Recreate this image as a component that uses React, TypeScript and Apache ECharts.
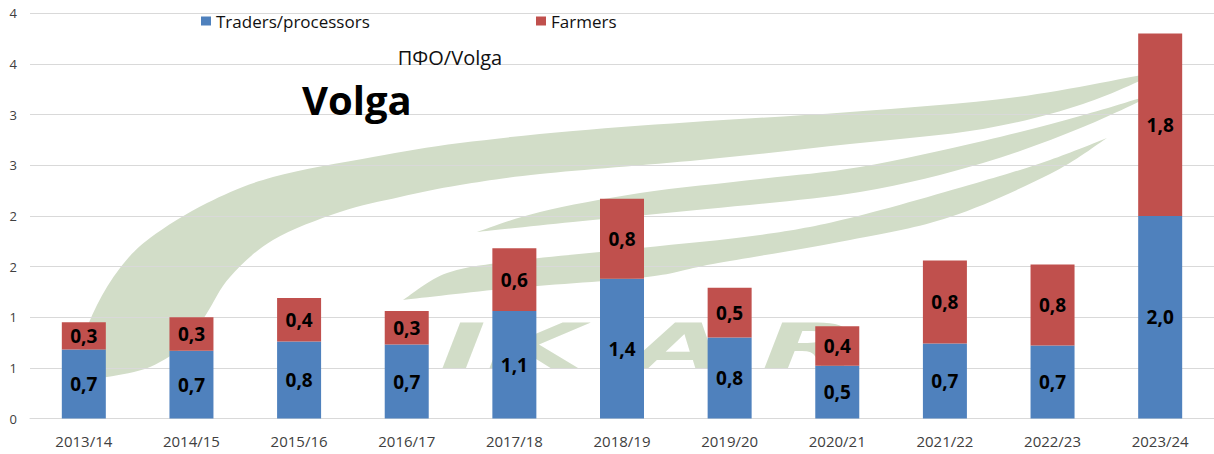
import React, { useEffect, useRef } from "react";
import * as echarts from "echarts";

const categories = ["2013/14", "2014/15", "2015/16", "2016/17", "2017/18", "2018/19", "2019/20", "2020/21", "2021/22", "2022/23", "2023/24"];
const traders = [0.68, 0.67, 0.76, 0.73, 1.06, 1.38, 0.8, 0.52, 0.74, 0.72, 2.0];
const farmers = [0.27, 0.33, 0.43, 0.33, 0.62, 0.79, 0.49, 0.39, 0.82, 0.8, 1.8];
const seriesNames = ["Traders/processors", "Farmers"];
const subtitle = "ПФО/Volga";
const title = "Volga";

type P = [number, number];

function smooth(pts: P[]): string {
  let d = "";
  for (let i = 0; i < pts.length - 1; i++) {
    const p0 = pts[i - 1] || pts[i];
    const p1 = pts[i];
    const p2 = pts[i + 1];
    const p3 = pts[i + 2] || p2;
    const c1 = [p1[0] + (p2[0] - p0[0]) / 6, p1[1] + (p2[1] - p0[1]) / 6];
    const c2 = [p2[0] - (p3[0] - p1[0]) / 6, p2[1] - (p3[1] - p1[1]) / 6];
    d += ` C ${c1[0]} ${c1[1]} ${c2[0]} ${c2[1]} ${p2[0]} ${p2[1]}`;
  }
  return d;
}

function leaf(outer: P[], inner: P[]): string {
  return `M ${outer[0][0]} ${outer[0][1]}` + smooth(outer) + smooth(inner) + " Z";
}

const swooshA = leaf(
  [[72, 381], [82, 342], [97, 305], [120, 268], [150, 238], [207, 203], [273, 177], [373, 157], [460, 143], [573, 131], [707, 121], [850, 112], [1017, 97], [1162, 71]],
  [[1162, 71], [1083, 104], [983, 129], [850, 144], [700, 160], [540, 174], [460, 185], [400, 197], [340, 212], [273, 240], [230, 277], [207, 313], [187, 343], [150, 367], [107, 377], [72, 381]]
);
const swooshB = leaf(
  [[477, 232], [540, 212], [640, 193], [760, 179], [860, 167], [983, 141], [1080, 116], [1157, 93]],
  [[1157, 93], [1083, 127], [983, 163], [860, 192], [707, 209], [573, 222], [477, 232]]
);
const swooshC = leaf(
  [[403, 300], [447, 273], [513, 261], [640, 248], [760, 235], [850, 218], [983, 181], [1050, 160], [1107, 138]],
  [[1107, 138], [1050, 174], [950, 217], [850, 240], [713, 264], [647, 277], [513, 288], [403, 300]]
);

const fmtLabel = (p: any) => Number(p.value).toFixed(1).replace(".", ",");

export default function App() {
  const ref = useRef<HTMLDivElement>(null);
  useEffect(() => {
    if (!ref.current) return;
    echarts.graphic.registerShape("swooshA", echarts.graphic.extendPath(swooshA, {}));
    echarts.graphic.registerShape("swooshB", echarts.graphic.extendPath(swooshB, {}));
    echarts.graphic.registerShape("swooshC", echarts.graphic.extendPath(swooshC, {}));
    const chart = echarts.init(ref.current, undefined, { renderer: "svg" });
    const wm = "#d2ddc8";
    const letter = (t: string, x: number) => ({
      type: "text",
      x,
      y: 377,
      scaleX: 2,
      z: -1,
      silent: true,
      style: {
        text: t,
        x: 0,
        y: 0,
        fill: wm,
        fontSize: 62,
        fontWeight: "bold",
        fontStyle: "italic",
        fontFamily: "DejaVu Sans",
        textAlign: "left",
        textVerticalAlign: "bottom",
        align: "left",
        verticalAlign: "bottom",
      },
    });
    const labelCommon = {
      show: true,
      position: "inside",
      formatter: fmtLabel,
      color: "#000",
      fontWeight: "bold",
      fontSize: 19,
      fontFamily: "Open Sans",
    };
    const legendText = { fontSize: 17, color: "#111", fontFamily: "Open Sans", lineHeight: 20 };
    chart.setOption({
      animation: false,
      backgroundColor: "#ffffff",
      textStyle: { fontFamily: "Open Sans" },
      grid: { left: 30, top: 13.3, width: 1208, height: 405.2, containLabel: false },
      legend: [
        {
          data: [seriesNames[0]],
          left: 201,
          top: 11,
          padding: 0,
          icon: "rect",
          itemWidth: 10,
          itemHeight: 9,
          textStyle: legendText,
        },
        {
          data: [seriesNames[1]],
          left: 536,
          top: 11,
          padding: 0,
          icon: "rect",
          itemWidth: 10,
          itemHeight: 9,
          textStyle: legendText,
        },
      ],
      xAxis: {
        type: "category",
        data: categories,
        axisLine: { lineStyle: { color: "#d9d9d9" } },
        axisTick: { show: false },
        axisLabel: { color: "#404040", fontSize: 15, fontFamily: "Open Sans", margin: 15, interval: 0 },
      },
      yAxis: {
        type: "value",
        min: 0,
        max: 4,
        interval: 0.5,
        axisLine: { show: false },
        axisTick: { show: false },
        axisLabel: {
          color: "#404040",
          fontSize: 13,
          fontFamily: "Open Sans",
          margin: 13,
          formatter: (v: number) => String(Math.round(v)),
        },
        splitLine: { lineStyle: { color: "#d9d9d9", width: 1 } },
      },
      series: [
        {
          name: seriesNames[0],
          type: "bar",
          stack: "total",
          data: traders,
          barWidth: 44,
          itemStyle: { color: "#4f81bd" },
          label: labelCommon,
        },
        {
          name: seriesNames[1],
          type: "bar",
          stack: "total",
          data: farmers,
          barWidth: 44,
          itemStyle: { color: "#c0504d" },
          label: labelCommon,
        },
      ],
      graphic: {
        elements: [
          { type: "swooshA", x: 0, y: 0, z: -1, silent: true, style: { fill: wm } },
          { type: "swooshB", x: 0, y: 0, z: -1, silent: true, style: { fill: wm } },
          { type: "swooshC", x: 0, y: 0, z: -1, silent: true, style: { fill: wm } },
          letter("I", 440),
          letter("K", 487),
          letter("A", 632),
          letter("R", 762),
          {
            type: "text",
            x: 450,
            y: 57,
            z: 10,
            style: {
              text: subtitle,
              fill: "#111",
              fontSize: 20,
              fontFamily: "Open Sans",
              textAlign: "center",
              textVerticalAlign: "middle",
              align: "center",
              verticalAlign: "middle",
            },
          },
          {
            type: "text",
            x: 302,
            y: 99,
            z: 10,
            style: {
              text: title,
              fill: "#000",
              fontSize: 40,
              fontWeight: "bold",
              fontFamily: "Open Sans",
              textAlign: "left",
              textVerticalAlign: "middle",
              align: "left",
              verticalAlign: "middle",
            },
          },
        ],
      },
    });
    return () => chart.dispose();
  }, []);
  return <div ref={ref} style={{ position: "fixed", left: 0, top: 0, width: 1214, height: 454 }} />;
}
